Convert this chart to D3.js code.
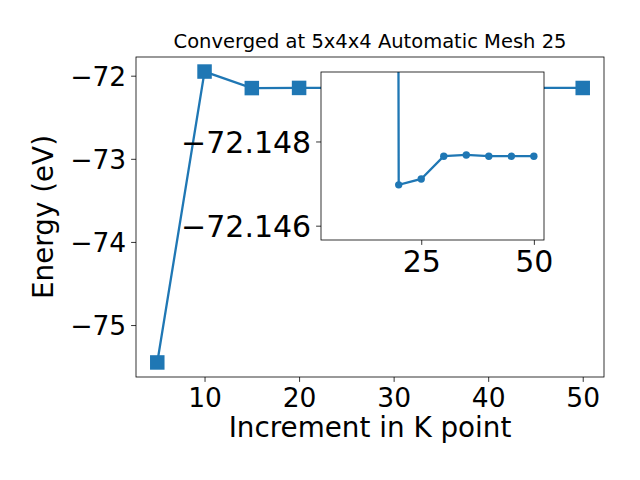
<!DOCTYPE html>
<html><head><meta charset="utf-8">
<script src="https://cdn.jsdelivr.net/npm/d3@7"></script>
<style>body{margin:0;background:#fff}svg{display:block;font-family:"DejaVu Sans",sans-serif}</style>
</head><body><svg id="c" width="640" height="480"></svg>
<script>
const kPoints = [5, 10, 15, 20, 25, 30, 35, 40, 45, 50];
const energies = [-75.45, -71.95, -72.149, -72.147, -72.1471, -72.14765, -72.14768, -72.14765, -72.14765, -72.14765];
const insetK = [15, 20, 25, 30, 35, 40, 45, 50];
const insetE = [-72.40, -72.14697, -72.14711, -72.14765, -72.14768, -72.14765, -72.14765, -72.14765];
const xTicks = [10, 20, 30, 40, 50];
const yTicks = [-72, -73, -74, -75];
const insetXTicks = [25, 50];
const insetYTicks = [-72.148, -72.146];
const title = "Converged at 5x4x4 Automatic Mesh 25";
const xLabel = "Increment in K point";
const yLabel = "Energy (eV)";
const color = "#1f77b4";

const svg = d3.select("#c");
const L = 136, T = 57, W = 468, H = 320;
const x = d3.scaleLinear().domain([2.75, 52.25]).range([L, L + W]);
const y = d3.scaleLinear().domain([-75.625, -71.775]).range([T + H, T]);
const fmt = d3.format("d");
const FS = 26.5, LFS = 27.8, IFS = 30;

// main line
svg.append("path").datum(kPoints.map((k, i) => [k, energies[i]]))
  .attr("fill", "none").attr("stroke", color).attr("stroke-width", 2.3)
  .attr("d", d3.line().x(d => x(d[0])).y(d => y(d[1])));
const ms = 14.5;
svg.selectAll("rect.m").data(kPoints.map((k, i) => [k, energies[i]])).enter()
  .append("rect").attr("class", "m")
  .attr("x", d => x(d[0]) - ms / 2).attr("y", d => y(d[1]) - ms / 2)
  .attr("width", ms).attr("height", ms).attr("fill", color);

// main axes
const gx = svg.append("g").attr("transform", `translate(0,${T + H})`)
  .call(d3.axisBottom(x).tickValues(xTicks).tickFormat(fmt).tickSizeOuter(0).tickSize(4.9).tickPadding(4.9));
const gy = svg.append("g").attr("transform", `translate(${L},0)`)
  .call(d3.axisLeft(y).tickValues(yTicks).tickFormat(fmt).tickSizeOuter(0).tickSize(4.9).tickPadding(4.9));
[gx, gy].forEach(g => {
  g.select(".domain").remove();
  g.selectAll("line").attr("stroke", "#000").attr("stroke-width", 0.8);
  g.selectAll("text").attr("font-size", FS).attr("fill", "#000").attr("font-family", "DejaVu Sans");
});
gx.selectAll("text").attr("dy", null).attr("y", 30);
gy.selectAll("text").attr("dy", "0.36em");
svg.append("rect").attr("x", L).attr("y", T).attr("width", W).attr("height", H)
  .attr("fill", "none").attr("stroke", "#000").attr("stroke-width", 0.8);

svg.append("text").attr("x", L + W / 2).attr("y", 48).attr("text-anchor", "middle")
  .attr("font-size", 19.5).text(title);
svg.append("text").attr("x", L + W / 2).attr("y", 437).attr("text-anchor", "middle")
  .attr("font-size", LFS).text(xLabel);
svg.append("text").attr("transform", `translate(53,${T + H / 2}) rotate(-90)`)
  .attr("text-anchor", "middle").attr("font-size", LFS).text(yLabel);

// inset
const iL = 321, iT = 72, iW = 223, iH = 168;
const ix = d3.scaleLinear().domain([2.75, 52.25]).range([iL, iL + iW]);
const iy = d3.scaleLinear().domain([-72.14965, -72.14566]).range([iT, iT + iH]);
svg.append("rect").attr("x", iL).attr("y", iT).attr("width", iW).attr("height", iH).attr("fill", "#fff");
svg.append("clipPath").attr("id", "ic").append("rect")
  .attr("x", iL).attr("y", iT).attr("width", iW).attr("height", iH);
const ig = svg.append("g").attr("clip-path", "url(#ic)");
const idata = insetK.map((k, i) => [k, insetE[i]]);
ig.append("path").datum(idata).attr("fill", "none").attr("stroke", color).attr("stroke-width", 2.3)
  .attr("d", d3.line().x(d => ix(d[0])).y(d => iy(d[1])));
ig.selectAll("circle").data(idata).enter().append("circle")
  .attr("cx", d => ix(d[0])).attr("cy", d => iy(d[1])).attr("r", 3.7).attr("fill", color);
const igx = svg.append("g").attr("transform", `translate(0,${iT + iH})`)
  .call(d3.axisBottom(ix).tickValues(insetXTicks).tickFormat(fmt).tickSizeOuter(0).tickSize(4.9).tickPadding(4.9));
const igy = svg.append("g").attr("transform", `translate(${iL},0)`)
  .call(d3.axisLeft(iy).tickValues(insetYTicks).tickFormat(d3.format(".3f")).tickSizeOuter(0).tickSize(4.9).tickPadding(4.9));
[igx, igy].forEach(g => {
  g.select(".domain").remove();
  g.selectAll("line").attr("stroke", "#000").attr("stroke-width", 0.8);
  g.selectAll("text").attr("font-size", IFS).attr("fill", "#000").attr("font-family", "DejaVu Sans");
});
igx.selectAll("text").attr("dy", null).attr("y", 32);
igy.selectAll("text").attr("dy", "0.36em");
svg.append("rect").attr("x", iL).attr("y", iT).attr("width", iW).attr("height", iH)
  .attr("fill", "none").attr("stroke", "#000").attr("stroke-width", 0.8);
</script></body></html>
